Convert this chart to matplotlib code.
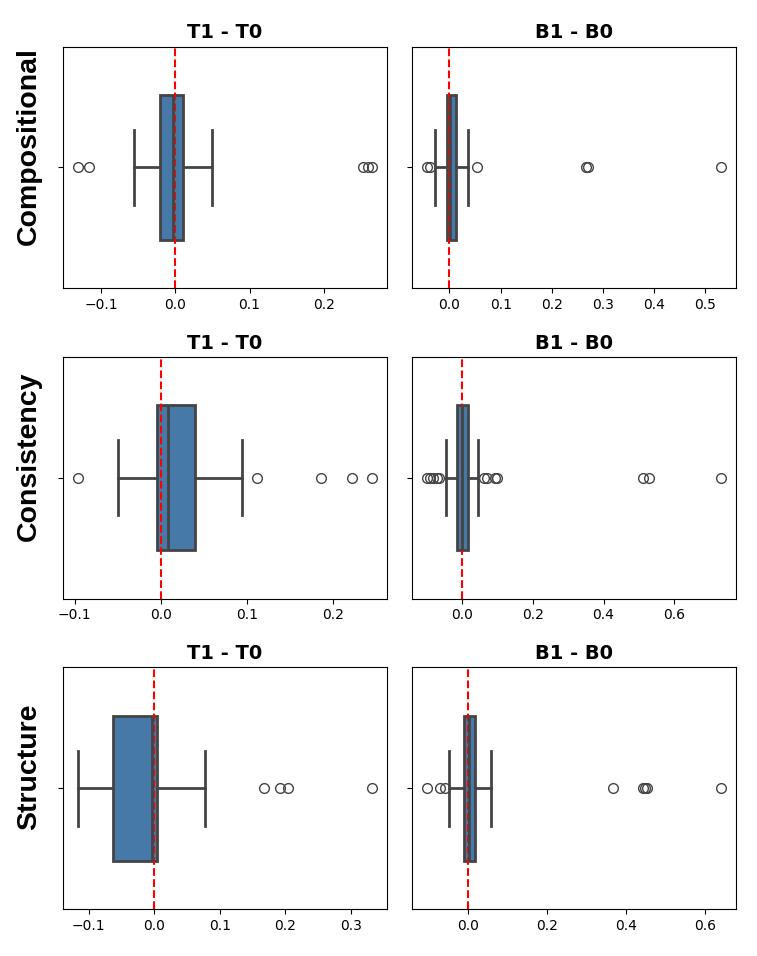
import matplotlib
matplotlib.use("Agg")
import matplotlib.pyplot as plt

row_labels = ["Compositional", "Consistency", "Structure"]
col_titles = ["T1 - T0", "B1 - B0"]

# box statistics per panel: [q1, median, q3, whisker_low, whisker_high]
comp_t = [-0.0211, -0.0032, 0.0103, -0.0560, 0.0489]
comp_t_fliers = [-0.131, -0.116, 0.2525, 0.259, 0.265]
comp_b = [-0.0052, 0.0020, 0.0130, -0.0280, 0.0364]
comp_b_fliers = [-0.0435, -0.0377, 0.053, 0.266, 0.270, 0.531]

cons_t = [-0.0047, 0.0089, 0.0400, -0.0493, 0.0939]
cons_t_fliers = [-0.0962, 0.1114, 0.1863, 0.2224, 0.2457]
cons_b = [-0.0141, -0.0010, 0.0160, -0.0453, 0.0434]
cons_b_fliers = [-0.100, -0.092, -0.084, -0.072, -0.066, 0.061, 0.071, 0.091, 0.098, 0.512, 0.529, 0.734]

stru_t = [-0.0627, -0.0041, 0.0041, -0.1163, 0.0770]
stru_t_fliers = [0.1667, 0.1921, 0.2039, 0.3324]
stru_b = [-0.0093, 0.0010, 0.0185, -0.0489, 0.0590]
stru_b_fliers = [-0.1037, -0.0717, -0.0573, 0.368, 0.4417, 0.447, 0.452, 0.641]

panels = [
    [(comp_t, comp_t_fliers), (comp_b, comp_b_fliers)],
    [(cons_t, cons_t_fliers), (cons_b, cons_b_fliers)],
    [(stru_t, stru_t_fliers), (stru_b, stru_b_fliers)],
]

box_color = "#4679A8"
line_color = "#444444"

fig, axes = plt.subplots(3, 2, figsize=(7.57, 9.56), dpi=100)
fig.subplots_adjust(left=0.0836, right=0.9723, top=0.9512, bottom=0.0492,
                    wspace=0.079, hspace=0.285)

for r in range(3):
    for c in range(2):
        ax = axes[r][c]
        s, fl = panels[r][c]
        stats = [dict(q1=s[0], med=s[1], q3=s[2], whislo=s[3], whishi=s[4],
                      fliers=fl, label="")]
        ax.bxp(stats, positions=[0], widths=0.6, vert=False, patch_artist=True,
               showfliers=True, capwidths=0.31,
               boxprops=dict(facecolor=box_color, edgecolor=line_color, linewidth=2.0),
               medianprops=dict(color=line_color, linewidth=2.0),
               whiskerprops=dict(color=line_color, linewidth=2.0),
               capprops=dict(color=line_color, linewidth=2.0),
               flierprops=dict(marker="o", markerfacecolor="none",
                               markeredgecolor=line_color, markersize=7,
                               markeredgewidth=1.0))
        ax.axvline(0, color="red", linestyle="--", linewidth=1.5)
        ax.set_ylim(0.5, -0.5)
        ax.set_yticks([0])
        ax.set_yticklabels([""])
        allv = list(s) + list(fl)
        lo, hi = min(allv), max(allv)
        m = (hi - lo) * 0.05
        ax.set_xlim(lo - m, hi + m)
        ax.set_title(col_titles[c], fontsize=14, fontweight="bold")
        ax.tick_params(axis="x", labelsize=10)
        if c == 0:
            ax.text(-0.106, 0.59, row_labels[r], transform=ax.transAxes,
                    rotation=90, ha="center", va="center", fontsize=20.5,
                    fontweight="bold", family=["Liberation Sans", "DejaVu Sans"])

fig.savefig("out.png", dpi=100)
